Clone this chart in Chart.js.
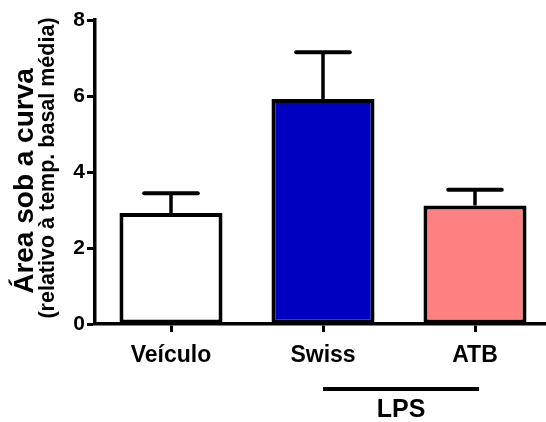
<!DOCTYPE html>
<html>
<head>
<meta charset="utf-8">
<script src="https://cdn.jsdelivr.net/npm/chart.js@4.4.1/dist/chart.umd.min.js"></script>
<style>
  html, body { margin: 0; padding: 0; background: #fff; overflow: hidden; }
  #wrap { width: 551px; height: 422px; position: relative; }
</style>
</head>
<body>
<div id="wrap"><canvas id="chart"></canvas></div>
<script>
const categories = ['Veículo', 'Swiss', 'ATB'];
const means = [2.92, 5.92, 3.12];
const semUp = [0.52, 1.23, 0.41];
const barColors = ['#ffffff', '#0000c0', '#ff8080'];
const yTitle = 'Área sob a curva';
const ySubtitle = '(relativo à temp. basal média)';
const groupLabel = 'LPS';
const groupMembers = ['Swiss', 'ATB'];

const FONT = "'Liberation Sans', Arial, sans-serif";

// error bars (upper SEM only)
const errorBars = {
    id: 'errorBars',
    afterDatasetsDraw(chart) {
        const ctx = chart.ctx;
        const y = chart.scales.y;
        const meta = chart.getDatasetMeta(0);
        ctx.save();
        ctx.strokeStyle = '#000';
        meta.data.forEach((bar, i) => {
            const top = y.getPixelForValue(means[i] + semUp[i]);
            const base = y.getPixelForValue(means[i]);
            const half = bar.width * 0.26;
            ctx.lineWidth = 3.5;
            ctx.lineCap = 'butt';
            ctx.beginPath();
            ctx.moveTo(bar.x, base);
            ctx.lineTo(bar.x, top);
            ctx.stroke();
            ctx.lineWidth = 4;
            ctx.lineCap = 'round';
            ctx.beginPath();
            ctx.moveTo(bar.x - half, top);
            ctx.lineTo(bar.x + half, top);
            ctx.stroke();
        });
        ctx.restore();
    }
};

// rotated two-size y title
const yTitles = {
    id: 'yTitles',
    afterDraw(chart) {
        const ctx = chart.ctx;
        const mid = (chart.chartArea.top + chart.chartArea.bottom) / 2;
        ctx.save();
        ctx.fillStyle = '#000';
        ctx.textAlign = 'center';
        ctx.textBaseline = 'alphabetic';
        ctx.translate(33, mid + 9);
        ctx.rotate(-Math.PI / 2);
        ctx.font = 'bold 28px ' + FONT;
        ctx.fillText(yTitle, 0, 0);
        ctx.restore();
        ctx.save();
        ctx.fillStyle = '#000';
        ctx.textAlign = 'center';
        ctx.textBaseline = 'alphabetic';
        ctx.translate(54, mid - 4);
        ctx.rotate(-Math.PI / 2);
        ctx.font = 'bold 21.5px ' + FONT;
        ctx.fillText(ySubtitle, 0, 0);
        ctx.restore();
    }
};

// LPS group bracket under the x labels
const groupBracket = {
    id: 'groupBracket',
    afterDraw(chart) {
        const ctx = chart.ctx;
        const x = chart.scales.x;
        const x1 = x.getPixelForValue(categories.indexOf(groupMembers[0]));
        const x2 = x.getPixelForValue(categories.indexOf(groupMembers[groupMembers.length - 1]));
        const yLine = chart.chartArea.bottom + 65;
        ctx.save();
        ctx.strokeStyle = '#000';
        ctx.lineWidth = 4;
        ctx.beginPath();
        ctx.moveTo(x1, yLine);
        ctx.lineTo(x2 + 4, yLine);
        ctx.stroke();
        ctx.fillStyle = '#000';
        ctx.font = 'bold 25px ' + FONT;
        ctx.textAlign = 'center';
        ctx.textBaseline = 'alphabetic';
        ctx.fillText(groupLabel, (x1 + x2) / 2 + 2, yLine + 28);
        ctx.restore();
    }
};

new Chart(document.getElementById('chart'), {
    type: 'bar',
    data: {
        labels: categories,
        datasets: [{
            data: means,
            backgroundColor: barColors,
            borderColor: '#000',
            borderWidth: 4,
            borderSkipped: false,
            barPercentage: 0.678,
            categoryPercentage: 1
        }]
    },
    options: {
        responsive: true,
        maintainAspectRatio: false,
        animation: false,
        layout: { padding: { top: 20, left: 0, right: 0, bottom: 0 } },
        plugins: {
            legend: { display: false },
            tooltip: { enabled: false },
            title: { display: false }
        },
        scales: {
            x: {
                offset: true,
                afterFit: s => { s.height = 98; },
                border: { display: true, color: '#000', width: 3.5 },
                grid: {
                    offset: false,
                    drawOnChartArea: false,
                    drawTicks: true,
                    tickLength: 8,
                    tickWidth: 3,
                    tickColor: '#000'
                },
                ticks: {
                    color: '#000',
                    padding: 10,
                    maxRotation: 0,
                    font: { family: FONT, size: 23, weight: 'bold' }
                }
            },
            y: {
                min: 0,
                max: 8,
                afterFit: s => { s.width = 95; },
                border: { display: true, color: '#000', width: 3.5 },
                grid: {
                    drawOnChartArea: false,
                    drawTicks: true,
                    tickLength: 8,
                    tickWidth: 3,
                    tickColor: '#000'
                },
                ticks: {
                    stepSize: 2,
                    color: '#000',
                    padding: 2,
                    font: { family: FONT, size: 21, weight: 'bold' }
                }
            }
        }
    },
    plugins: [errorBars, yTitles, groupBracket]
});
</script>
</body>
</html>
